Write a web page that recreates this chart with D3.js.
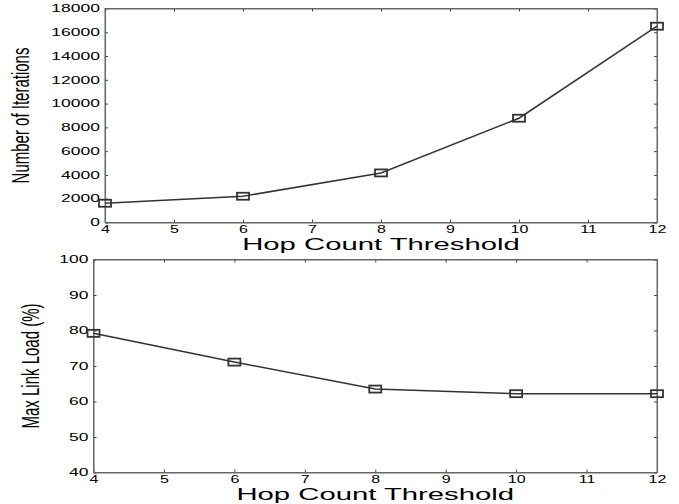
<!DOCTYPE html>
<html>
<head>
<meta charset="utf-8">
<script src="https://cdn.jsdelivr.net/npm/d3@7"></script>
<style>
  body { margin: 0; background: #fff; }
  text { font-family: "Liberation Sans", Arial, sans-serif; fill: #000; }
</style>
</head>
<body>
<div id="chart"></div>
<script>
var hops = [4, 6, 8, 10, 12];
var iterations = [1620, 2210, 4170, 8770, 16510];
var maxLoad = [79.2, 71.1, 63.5, 62.2, 62.2];

var xTicks = [4, 5, 6, 7, 8, 9, 10, 11, 12];
var iterTicks = [0, 2000, 4000, 6000, 8000, 10000, 12000, 14000, 16000, 18000];
var loadTicks = [40, 50, 60, 70, 80, 90, 100];

var width = 679;
var height = 504;

var svg = d3.select("#chart").append("svg")
    .attr("width", width)
    .attr("height", height);

function drawPanel(opts) {
    var x = d3.scaleLinear().domain([4, 12]).range([opts.left, opts.right]);
    var y = d3.scaleLinear().domain(opts.yDomain).range([opts.bottom, opts.top]);

    var g = svg.append("g");

    // ticks on all four sides, pointing in
    var bottomAxis = g.append("g")
        .attr("transform", "translate(0," + opts.bottom + ")")
        .call(d3.axisBottom(x).tickValues(xTicks).tickSizeInner(-3).tickSizeOuter(0));
    bottomAxis.selectAll("text")
        .attr("y", 0).attr("dy", null)
        .attr("font-size", "10px")
        .attr("transform", "translate(0,10) scale(1.6,1)");

    var leftAxis = g.append("g")
        .attr("transform", "translate(" + opts.left + ",0)")
        .call(d3.axisLeft(y).tickValues(opts.yTicks).tickFormat(d3.format("d")).tickSizeInner(-3).tickSizeOuter(0));
    leftAxis.selectAll("text")
        .attr("x", 0)
        .attr("font-size", "10px")
        .attr("transform", "translate(-5,0) scale(1.75,1)");

    g.append("g")
        .attr("transform", "translate(0," + opts.top + ")")
        .call(d3.axisTop(x).tickValues(xTicks).tickFormat("").tickSizeInner(-3).tickSizeOuter(0));

    g.append("g")
        .attr("transform", "translate(" + opts.right + ",0)")
        .call(d3.axisRight(y).tickValues(opts.yTicks).tickFormat("").tickSizeInner(-3).tickSizeOuter(0));

    g.selectAll(".domain").attr("stroke", "#666");
    g.selectAll(".tick line").attr("stroke", "#444");
    g.selectAll(".tick text").attr("font-family", "Liberation Sans, Arial, sans-serif").attr("fill", "#000");

    g.append("rect")
        .attr("x", opts.left)
        .attr("y", opts.top)
        .attr("width", opts.right - opts.left)
        .attr("height", opts.bottom - opts.top)
        .attr("fill", "none")
        .attr("stroke", "#666")
        .attr("stroke-width", 1);

    var line = d3.line()
        .x(function(d, i) { return x(hops[i]); })
        .y(function(d) { return y(d); });

    g.append("path")
        .datum(opts.values)
        .attr("d", line)
        .attr("fill", "none")
        .attr("stroke", "#333")
        .attr("stroke-width", 1.5);

    g.selectAll(".marker")
        .data(opts.values)
        .enter()
        .append("rect")
        .attr("class", "marker")
        .attr("x", function(d, i) { return x(hops[i]) - 6; })
        .attr("y", function(d) { return y(d) - 3.5; })
        .attr("width", 12)
        .attr("height", 7)
        .attr("fill", "none")
        .attr("stroke", "#333")
        .attr("stroke-width", 1.8);

    g.append("text")
        .attr("text-anchor", "middle")
        .attr("font-size", "16px")
        .attr("transform", "translate(" + (opts.left + opts.right) / 2 + "," + (opts.bottom + 27) + ") scale(1.83,1)")
        .text("Hop Count Threshold");

    g.append("text")
        .attr("text-anchor", "middle")
        .attr("font-size", "15px")
        .attr("transform", "translate(" + opts.labelX + "," + (opts.top + opts.bottom) / 2 + ") scale(1.6,1) rotate(-90)")
        .text(opts.yLabel);
}

drawPanel({
    left: 105, right: 657, top: 8.5, bottom: 222.5,
    yDomain: [0, 18000], yTicks: iterTicks,
    values: iterations, yLabel: "Number of Iterations", labelX: 29
});

drawPanel({
    left: 93.5, right: 657, top: 259.5, bottom: 472.5,
    yDomain: [40, 100], yTicks: loadTicks,
    values: maxLoad, yLabel: "Max Link Load (%)", labelX: 39
});
</script>
</body>
</html>
